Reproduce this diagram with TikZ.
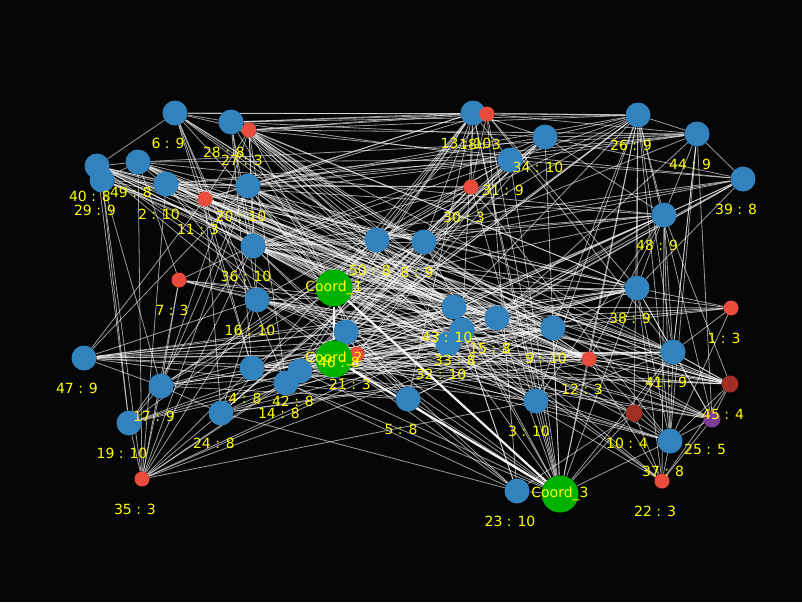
\documentclass[tikz,border=0pt]{standalone}
\usepackage{fontspec}
\setmainfont{DejaVu Sans}
\usetikzlibrary{backgrounds}
\definecolor{bgk}{RGB}{6,6,6}
\definecolor{nblue}{RGB}{49,130,189}
\definecolor{nred}{RGB}{231,76,60}
\definecolor{ndred}{RGB}{160,48,38}
\definecolor{npurp}{RGB}{125,60,152}
\definecolor{ngreen}{RGB}{0,178,0}
\definecolor{lblyel}{RGB}{255,255,0}
\begin{document}
\begin{tikzpicture}[x=1pt,y=-1pt,
  nb/.style={circle,fill=nblue,inner sep=0pt,minimum size=25pt},
  nr/.style={circle,fill=nred,inner sep=0pt,minimum size=15pt},
  ndr/.style={circle,fill=ndred,inner sep=0pt,minimum size=17pt},
  np/.style={circle,fill=npurp,inner sep=0pt,minimum size=17pt},
  ng/.style={circle,fill=ngreen,inner sep=0pt,minimum size=37pt},
  edge/.style={draw=white,opacity=0.6,line width=0.8pt},
  thickedge/.style={draw=white,opacity=0.95,line width=2.2pt},
  lbl/.style={text=lblyel,font=\fontsize{14}{16}\selectfont,inner sep=1pt}]
\useasboundingbox (0,0) rectangle (802,602);
% nodes
\foreach \i/\x/\y/\s/\d in {
 1/731/308/nr/3, 2/166/184/nb/10, 3/536/401/nb/10, 4/252/368/nb/8, 5/408/399/nb/8,
 6/175/113/nb/9, 7/179/280/nr/3, 8/424/242/nb/9, 9/553/328/nb/10, 10/634/413/ndr/4,
 11/205/199/nr/3, 12/589/359/nr/3, 13/473/113/nb/10, 14/286/383/nb/8, 15/497/318/nb/8,
 16/257/300/nb/10, 17/161/386/nb/9, 18/487/114/nr/3, 19/129/423/nb/10, 20/248/186/nb/10,
 22/662/481/nr/3, 23/517/491/nb/10, 24/221/413/nb/8, 25/712/419/np/5,
 26/638/115/nb/9, 27/249/130/nr/3, 28/231/122/nb/8, 29/102/180/nb/9, 30/471/187/nr/3,
 31/510/160/nb/9, 32/448/344/nb/10, 33/462/330/nb/8, 34/545/137/nb/10, 35/142/479/nr/3,
 36/253/246/nb/10, 37/670/441/nb/8, 38/637/288/nb/9, 39/743/179/nb/8, 40/97/166/nb/8,
 41/673/352/nb/9, 42/300/371/nb/8, 43/454/307/nb/10, 44/697/134/nb/9, 45/730/384/ndr/4,
 46/346/332/nb/8, 47/84/358/nb/9, 48/664/215/nb/9, 49/138/162/nb/8, 50/377/240/nb/8,
 21/357/354/nr/3}
 {\node[\s] (n\i) at (\x,\y) {};}
\node[ng] (nc1) at (334,288) {};
\node[ng] (nc2) at (334,359) {};
\node[ng] (nc3) at (560,494) {};
% edges
\begin{scope}[on background layer]
\fill[bgk] (0,0) rectangle (802,602);
\foreach \a/\b in {
 1/38,1/9,1/43,1/15,1/33,1/36,1/37,1/41,
 2/20,2/36,2/16,2/8,2/43,2/15,2/9,2/12,2/35,2/3,
 3/c3,3/c1,3/36,3/16,3/20,3/4,3/28,3/13,3/26,3/48,3/41,
 4/c2,4/35,4/47,4/9,4/12,4/15,4/43,4/38,4/41,4/6,
 5/c3,5/c2,5/36,5/20,5/16,5/47,5/17,5/9,5/38,5/13,
 6/40,6/28,6/27,6/16,6/14,6/50,6/43,6/15,6/33,6/c1,6/11,
 7/49,7/17,7/36,7/16,7/43,7/9,7/12,7/35,7/32,
 8/c1,8/c3,8/40,8/29,8/13,8/26,8/44,8/39,8/41,8/17,8/24,
 9/c3,9/c1,9/36,9/20,9/28,9/27,9/47,9/17,9/45,9/25,9/26,
 10/c1,10/20,10/36,10/16,10/26,10/37,10/23,10/22,10/41,
 11/13,11/18,11/31,11/43,11/15,11/12,11/41,11/24,11/4,11/27,
 12/c3,12/20,12/36,12/16,12/27,12/28,12/48,12/26,12/45,12/22,12/37,
 13/c3,13/c1,13/27,13/28,13/6,13/20,13/26,13/34,13/50,13/42,13/14,13/33,
 14/c3,14/9,14/38,14/27,14/34,14/26,
 15/c3,15/40,15/49,15/29,15/20,15/28,15/39,15/44,15/45,15/25,
 16/47,16/24,16/38,16/41,16/33,16/32,16/45,16/25,
 17/47,17/19,17/29,17/27,17/20,17/43,17/33,17/32,17/12,
 18/c3,18/c1,18/27,18/28,18/6,18/26,18/44,18/38,18/41,18/23,
 19/29,19/40,19/36,19/43,19/c2,19/38,19/9,
 20/c1,20/26,20/34,20/44,20/31,20/30,20/47,20/35,20/45,20/22,
 21/c1,21/c3,21/47,21/40,21/49,21/34,21/39,21/48,21/41,21/25,
 22/25,22/45,22/37,22/48,22/38,22/33,22/43,22/c1,
 23/c3,23/43,23/33,23/36,23/16,23/5,23/24,23/14,
 24/35,24/17,24/43,24/15,24/9,24/12,24/41,24/31,24/13,
 25/45,25/37,25/41,25/38,25/26,25/44,25/c2,25/36,25/43,
 26/34,26/44,26/48,26/38,26/41,26/37,26/28,26/27,26/50,26/31,
 27/28,27/36,27/16,27/c1,27/43,27/15,27/33,27/38,27/41,27/44,27/39,
 28/36,28/c1,28/16,28/4,28/31,28/34,28/43,28/38,
 29/40,29/49,29/2,29/36,29/43,29/33,29/12,29/35,
 30/c3,30/13,30/18,30/36,30/50,30/2,30/17,30/46,30/42,30/14,30/37,
 31/c3,31/13,31/44,31/39,31/36,31/46,31/21,31/42,31/16,31/49,31/2,
 32/c1,32/c2,32/40,32/49,32/27,32/39,32/48,32/45,32/25,
 33/c2,33/40,33/49,33/36,33/39,33/48,33/45,33/37,
 34/48,34/39,34/44,34/c3,34/36,34/50,34/46,34/42,34/4,34/24,
 35/49,35/19,35/17,35/16,35/36,35/42,35/14,35/33,35/32,35/9,35/3,
 36/c1,36/50,36/8,36/43,36/15,36/38,36/41,36/48,36/45,
 37/41,37/38,37/48,37/45,37/3,37/c2,37/46,37/21,
 38/48,38/41,38/39,38/40,38/49,38/2,38/c2,38/46,
 39/44,39/48,39/50,39/36,
 40/49,40/c1,40/16,40/36,40/43,40/9,40/12,
 41/48,41/44,41/45,41/49,41/40,41/47,41/c2,
 42/c2,42/c3,42/9,42/38,42/12,42/41,42/45,42/26,42/48,
 43/c3,43/49,43/47,43/48,43/45,43/26,
 44/48,44/37,44/41,44/2,44/49,
 45/41,45/48,45/c2,45/47,45/2,
 46/c1,46/c2,46/c3,46/47,46/40,46/9,46/38,46/12,46/26,
 47/38,47/15,47/32,47/11,
 48/49,48/2,48/50,48/8,
 49/c1,49/9,49/12,49/3,
 50/c3,50/40,50/17,50/19,50/12,50/41,50/45,
 c1/38,c1/48,c1/15,c1/43,c1/12,
 c2/9,c2/3,c2/41,
 c3/10,c3/37,c3/38,c3/41,c3/26}
 {\draw[edge] (n\a) -- (n\b);}
\draw[thickedge] (nc1) -- (nc2);
\draw[thickedge] (nc1) -- (nc3);
\draw[thickedge] (nc2) -- (nc3);
\end{scope}
% labels
\foreach \i/\x/\y/\d in {
 1/731/308/3, 2/166/184/10, 3/536/401/10, 4/252/368/8, 5/408/399/8,
 6/175/113/9, 7/179/280/3, 8/424/242/9, 9/553/328/10, 10/634/413/4,
 11/205/199/3, 12/589/359/3, 13/473/113/10, 14/286/383/8, 15/497/318/8,
 16/257/300/10, 17/161/386/9, 18/487/114/3, 19/129/423/10, 20/248/186/10,
 21/357/354/3, 22/662/481/3, 23/517/491/10, 24/221/413/8, 25/712/419/5,
 26/638/115/9, 27/249/130/3, 28/231/122/8, 29/102/180/9, 30/471/187/3,
 31/510/160/9, 32/448/344/10, 33/462/330/8, 34/545/137/10, 35/142/479/3,
 36/253/246/10, 37/670/441/8, 38/637/288/9, 39/743/179/8, 40/97/166/8,
 41/673/352/9, 42/300/371/8, 43/454/307/10, 44/697/134/9, 45/730/384/4,
 46/346/332/8, 47/84/358/9, 48/664/215/9, 49/138/162/8, 50/377/240/8}
 {\node[lbl] (l\i) at ({\x-7},{\y+30}) {\i{} : \d};}
\node[lbl] (lc1) at (nc1) {Coord\_1};
\node[lbl] (lc2) at (nc2) {Coord\_2};
\node[lbl] (lc3) at (nc3) {Coord\_3};
\end{tikzpicture}
\end{document}
